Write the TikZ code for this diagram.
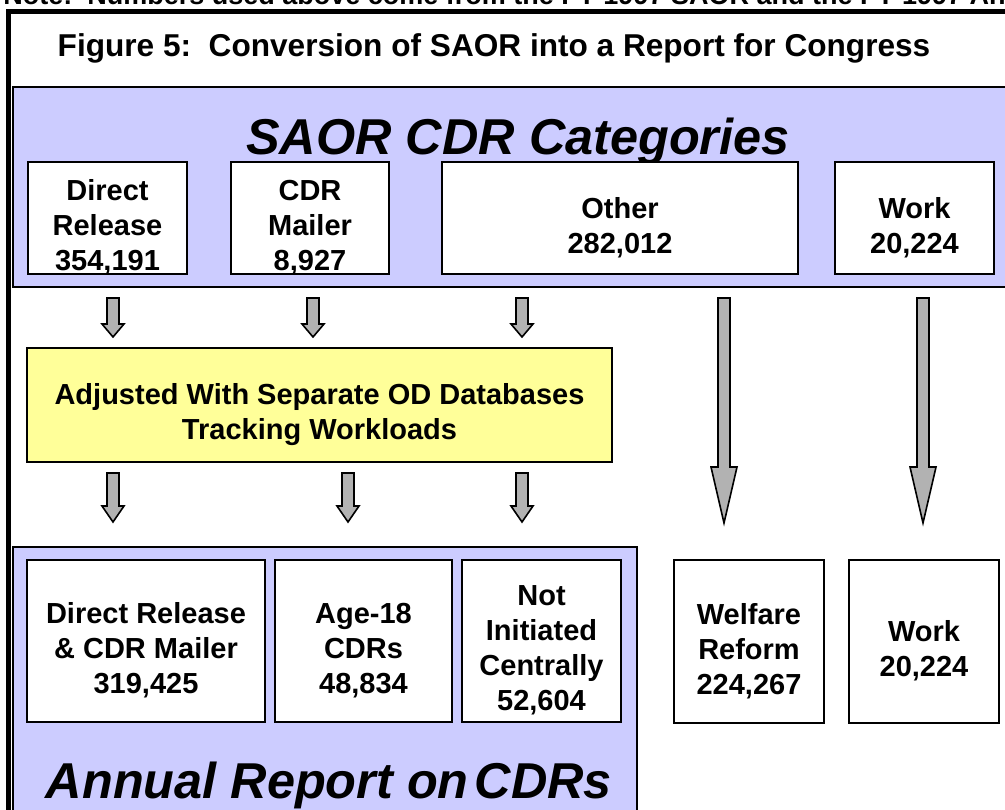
\documentclass[tikz,border=0pt]{standalone}
\usepackage{fontspec}
\setmainfont{Liberation Sans}
\usetikzlibrary{positioning}

\definecolor{panelblue}{HTML}{CCCCFF}
\definecolor{adjyellow}{HTML}{FFFF99}
\definecolor{arrowgray}{HTML}{B2B2B2}

\tikzset{
  catbox/.style={draw, fill=white, line width=1pt, inner sep=0pt},
  boxtext/.style={align=center, inner sep=0pt, yshift=-4.75pt,
    font=\bfseries\fontsize{14.5}{17.5}\selectfont},
  panel/.style={draw, fill=panelblue, line width=1pt, inner sep=0pt},
  blockarr/.style={draw, fill=arrowgray, line width=0.8pt, line join=miter},
  bigtitle/.style={anchor=base, inner sep=0pt,
    font=\bfseries\itshape\fontsize{25.2}{30}\selectfont},
}

\begin{document}
\begin{tikzpicture}[x=0.5pt,y=-0.5pt]

\useasboundingbox (0,0) rectangle (1005,809);
\clip (0,0) rectangle (1005,809);

% note line, cut off by the page top
\node[anchor=base west, inner sep=0pt, font=\bfseries\fontsize{13.5}{16}\selectfont] (note) at (3,4)
  {Note:\ \ Numbers used above come from the FY 1997 SAOR and the FY 1997 Annual Report};

% outer frame
\draw[line width=2.5pt] (8,11) rectangle (1040,850);

\node[anchor=base, inner sep=0pt, font=\bfseries\fontsize{15.8}{19}\selectfont] (title) at (494,56)
  {Figure 5:\ \ Conversion of SAOR into a Report for Congress};

% the two panels
\node[panel, minimum width=513.5pt, minimum height=100pt] (saor) at (526.5,187) {};
\node[panel, minimum width=312pt, minimum height=151.5pt] (annual) at (325,698.5) {};

\node[bigtitle] (saortitle) at (518,154) {SAOR CDR Categories};
\node[bigtitle] (annualtitle) at (329,798) {Annual Report on\hspace{0.12em}CDRs};

% SAOR categories
\node[catbox, minimum width=79.5pt, minimum height=56pt] (dr) at (107.5,218) {};
\node[catbox, minimum width=79pt, minimum height=56pt] (cm) at (310,218) {};
\node[catbox, minimum width=178pt, minimum height=56pt] (ot) at (620,218) {};
\node[catbox, minimum width=79.5pt, minimum height=56pt] (wk) at (914.5,218) {};

\node[boxtext] (drtext) at (dr) {Direct\\Release\\354,191};
\node[boxtext] (cmtext) at (cm) {CDR\\Mailer\\8,927};
\node[boxtext] (ottext) at (ot) {Other\\282,012};
\node[boxtext] (wktext) at (wk) {Work\\20,224};

\node[catbox, fill=adjyellow, minimum width=292.5pt, minimum height=57pt] (adj) at (319.5,405) {};
\node[boxtext] (adjtext) at (adj) {Adjusted With Separate OD Databases\\Tracking Workloads};

% report categories
\node[catbox, minimum width=119pt, minimum height=81pt] (drcm) at (146,641) {};
\node[catbox, minimum width=88.5pt, minimum height=81pt] (age) at (363.5,641) {};
\node[catbox, minimum width=79.5pt, minimum height=81pt] (nic) at (541.5,641) {};
\node[catbox, minimum width=75pt, minimum height=81.5pt] (wr) at (749,641.5) {};
\node[catbox, minimum width=75pt, minimum height=81.5pt] (wk2) at (924,641.5) {};

\node[boxtext] (drcmtext) at (drcm) {Direct Release\\\& CDR Mailer\\319,425};
\node[boxtext] (agetext) at (age) {Age-18\\CDRs\\48,834};
\node[boxtext] (nictext) at (nic) {Not\\Initiated\\Centrally\\52,604};
\node[boxtext] (wrtext) at (wr) {Welfare\\Reform\\224,267};
\node[boxtext] (wk2text) at (wk2) {Work\\20,224};

% block arrows
\foreach \ax/\ya/\yb/\hl in {113/298/337/13, 313/298/337/13, 522/298/337/13,
                             113/473/522/16, 348/473/522/16, 522/473/522/16}
  \draw[blockarr] (\ax-6,\ya) -- (\ax+6,\ya) -- (\ax+6,\yb-\hl) -- (\ax+11,\yb-\hl)
    -- (\ax,\yb) -- (\ax-11,\yb-\hl) -- (\ax-6,\yb-\hl) -- cycle;

\foreach \ax in {724,923}
  \draw[blockarr] (\ax-6,298) -- (\ax+6,298) -- (\ax+6,467) -- (\ax+13,467)
    -- (\ax,523) -- (\ax-13,467) -- (\ax-6,467) -- cycle;

\end{tikzpicture}
\end{document}
